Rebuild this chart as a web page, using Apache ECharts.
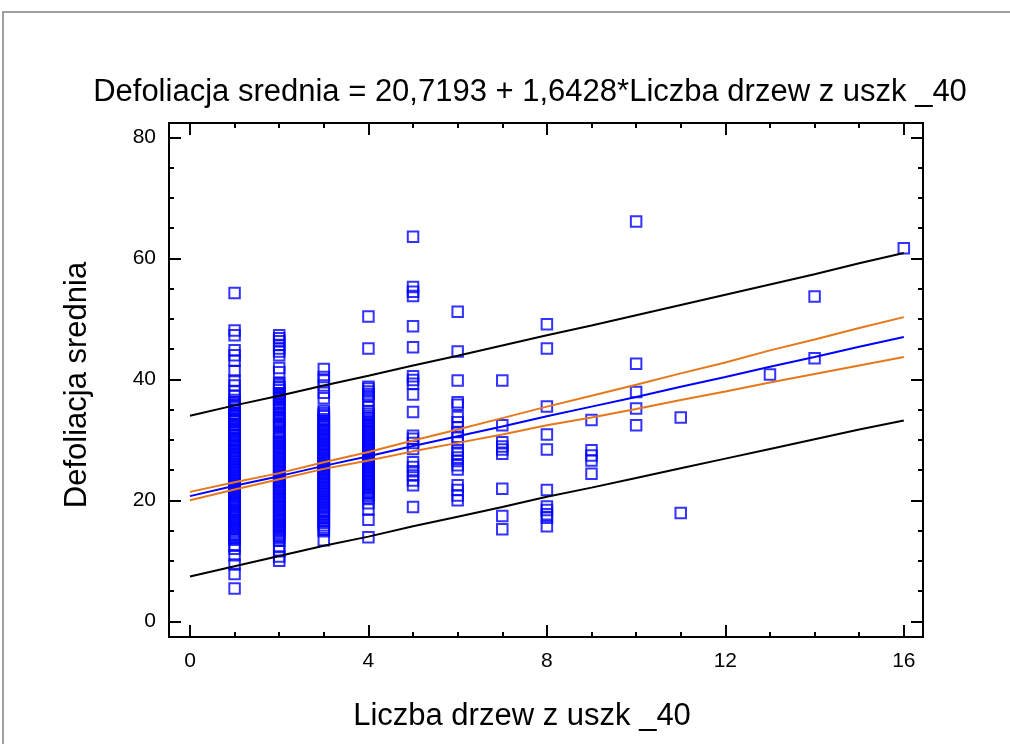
<!DOCTYPE html>
<html><head><meta charset="utf-8">
<script src="https://cdn.jsdelivr.net/npm/echarts@6/dist/echarts.min.js"></script>
<style>html,body{margin:0;padding:0;background:#fff}#c{width:1010px;height:744px}</style>
</head><body><div id="c"></div>
<script>
// ---- texts ----
const titleText = 'Defoliacja srednia = 20,7193 + 1,6428*Liczba drzew z uszk _40';
const xTitle = 'Liczba drzew z uszk _40';
const yTitle = 'Defoliacja srednia';

// ---- ticks ----
const xMajorTicks = [0, 4, 8, 12, 16];
const xMinorTicks = [1, 2, 3, 5, 6, 7, 9, 10, 11, 13, 14, 15];
const yMajorTicks = [0, 20, 40, 60, 80];
const yMinorTicks = [5, 10, 15, 25, 30, 35, 45, 50, 55, 65, 70, 75];

// ---- observations (x value and the y values read at that x) ----
const obsX = [1, 2, 3, 4, 5, 6, 7, 8, 9, 10, 11, 13, 14, 16];
const obsY1 = [54.3, 48.1, 47.3, 44.8, 44.0, 43.1, 41.4, 39.8, 39.0, 38.0, 37.3,
  36.6, 36.2, 35.9, 35.7, 35.3, 35.0, 34.8, 34.4, 34.2, 33.9, 33.5, 33.3, 33.0, 32.6, 32.4, 32.1, 31.8, 31.5, 31.2, 30.9,
  30.7, 30.3, 30.1, 29.8, 29.5, 29.2, 28.9, 28.7, 28.3, 28.1, 27.8, 27.5, 27.2, 26.9, 26.7, 26.4, 26.1, 25.8, 25.5, 25.2,
  25.0, 24.7, 24.4, 24.1, 23.8, 23.6, 23.3, 23.0, 22.7, 22.4, 22.2, 21.9, 21.6, 21.3, 21.0, 20.8, 20.5, 20.2, 19.9, 19.6,
  19.4, 19.1, 18.8, 18.5, 18.2, 18.0, 17.7, 17.4, 17.1, 16.8, 16.6, 16.3, 16.0, 15.7, 15.4, 15.2, 14.9, 14.6, 14.3, 14.0,
  13.8, 13.5, 12.5, 12.0, 10.9, 9.4, 7.8, 5.4];
const obsY2 = [47.3, 46.8, 46.3, 45.7, 45.1, 44.6, 44.0, 41.9, 41.2,
  39.4, 39.1, 38.8, 38.6, 38.2, 37.7, 37.4, 37.1, 36.8, 36.5, 36.2, 35.9, 35.5, 35.3, 35.0, 34.4, 34.1, 33.8, 33.5, 33.2,
  32.9, 32.6, 32.3, 32.1, 31.4, 31.1, 30.8, 30.5, 30.2, 29.9, 29.6, 29.3, 29.0, 28.7, 28.4, 28.1, 27.8, 27.5, 27.2, 26.9,
  26.6, 26.3, 26.0, 25.7, 25.4, 25.1, 24.8, 24.5, 24.2, 23.9, 23.6, 23.3, 23.0, 22.7, 22.4, 22.1, 21.8, 21.5, 21.2, 20.9,
  20.6, 20.3, 20.0, 19.7, 19.4, 19.1, 18.8, 18.5, 18.2, 17.9, 17.6, 17.3, 17.0, 16.7, 16.4, 16.1, 15.8, 15.5, 15.2, 14.9,
  14.6, 14.3, 14.0, 13.7, 13.3, 12.3, 11.6, 10.7, 10.0];
const obsY3 = [41.7, 40.4, 39.8, 39.0, 37.8, 36.9,
  34.8, 34.5, 34.2, 33.9, 33.4, 33.1, 32.8, 32.5, 32.2, 31.9, 31.6, 31.3, 31.0, 30.7, 30.4, 30.1, 29.8, 29.5, 29.2, 28.9,
  28.6, 28.3, 28.0, 27.7, 27.4, 27.1, 26.8, 26.5, 26.2, 25.9, 25.6, 25.3, 25.0, 24.7, 24.4, 24.1, 23.8, 23.5, 23.2, 22.9,
  22.6, 22.3, 22.0, 21.7, 21.4, 21.1, 20.8, 20.5, 20.2, 19.9, 19.6, 19.3, 19.0, 18.7, 18.4, 18.1, 17.8, 17.4, 17.1, 16.6,
  16.3, 15.9, 15.5, 15.2, 14.9, 13.4];
const obsY4 = [50.4, 45.1,
  38.8, 38.5, 38.0, 37.6, 37.3, 36.5, 35.4, 34.7, 34.3, 34.0, 33.6, 33.3, 33.0, 32.7, 32.4, 32.1, 31.8, 31.5, 31.2, 30.9,
  30.6, 30.3, 30.0, 29.7, 29.4, 29.1, 28.8, 28.5, 28.2, 27.9, 27.6, 27.3, 27.0, 26.7, 26.4, 26.1, 25.8, 25.5, 25.2, 24.9,
  24.6, 24.3, 24.0, 23.7, 23.4, 23.1, 22.8, 22.5, 22.2, 21.9, 21.6, 21.3, 21.0, 20.7, 20.4, 19.5, 18.5, 16.8, 13.9];
const obsY5 = [63.6, 55.3, 54.5, 53.8, 48.8, 45.3, 40.5, 39.9, 39.3, 37.5, 34.6, 30.7, 30.2, 29.5, 28.5, 26.3, 25.5, 24.8, 24.1, 23.3, 22.5, 18.9];
const obsY6 = [51.2, 44.6, 39.8, 36.2, 35.8, 33.8, 32.9, 32.1, 31.3, 30.5, 29.6, 28.3, 27.7, 27.1, 26.5, 25.8, 25.1, 22.5, 21.7, 20.8, 20.0];
const obsY7 = [39.8, 32.4, 29.6, 28.9, 28.4, 27.7, 21.9, 17.4, 15.2];
const obsY8 = [49.1, 45.1, 35.5, 30.9, 28.4, 21.7, 19.0, 18.4, 17.7, 17.1, 15.7];
const obsY9 = [33.3, 28.3, 27.4, 26.6, 24.4];
const obsY10 = [66.1, 42.6, 37.9, 35.2, 32.4];
const obsY11 = [33.7, 17.9];
const obsY13 = [40.8];
const obsY14 = [53.7, 43.5];
const obsY16 = [61.7];
const obsYs = [obsY1, obsY2, obsY3, obsY4, obsY5, obsY6, obsY7, obsY8, obsY9, obsY10, obsY11, obsY13, obsY14, obsY16];

// ---- fitted line and limits, read at x = 0..16 ----
const fitX = [0, 1, 2, 3, 4, 5, 6, 7, 8, 9, 10, 11, 12, 13, 14, 15, 16];
const fitY = [20.7, 22.4, 24.0, 25.7, 27.3, 29.0, 30.6, 32.2, 33.9, 35.5, 37.1, 38.8, 40.4, 42.1, 43.7, 45.4, 47.0];
const confUpper = [21.4, 23.0, 24.5, 26.3, 28.0, 29.9, 31.7, 33.6, 35.5, 37.3, 39.1, 41.0, 42.8, 44.8, 46.6, 48.5, 50.3];
const confLower = [20.0, 21.8, 23.5, 25.2, 26.6, 28.1, 29.5, 30.9, 32.4, 33.7, 35.1, 36.6, 38.0, 39.5, 40.9, 42.3, 43.7];
const predUpper = [34.0, 35.7, 37.3, 39.0, 40.6, 42.3, 43.9, 45.6, 47.3, 48.9, 50.6, 52.3, 54.0, 55.7, 57.4, 59.2, 60.9];
const predLower = [7.4, 9.1, 10.8, 12.5, 14.0, 15.7, 17.3, 18.9, 20.6, 22.1, 23.7, 25.3, 26.9, 28.5, 30.1, 31.7, 33.2];

const F = "'Liberation Sans', Arial, sans-serif";
const X_MIN = -0.47, X_MAX = 16.43, Y_MIN = -2.6, Y_MAX = 82.4;

function axis(kind, pos, ticks, len, labels, extra) {
  const a = {
    type: 'value', position: pos,
    min: kind === 'x' ? X_MIN : Y_MIN, max: kind === 'x' ? X_MAX : Y_MAX,
    axisLine: { show: true, onZero: false, lineStyle: { color: '#000', width: 2 } },
    axisTick: { show: true, inside: true, length: len, customValues: ticks, lineStyle: { color: '#000', width: 2 } },
    axisLabel: { show: labels, customValues: ticks, margin: kind === 'x' ? 14 : 13, color: '#000', fontSize: 21, fontFamily: F },
    splitLine: { show: false }, minorTick: { show: false }
  };
  return Object.assign(a, extra || {});
}

const scatterData = [];
obsX.forEach((x, i) => obsYs[i].forEach(v => scatterData.push([x, v])));
const zip = arr => fitX.map((x, i) => [x, arr[i]]);
const lineS = (name, arr, color) => ({
  name, type: 'line', data: zip(arr), showSymbol: false, symbol: 'none', silent: true,
  lineStyle: { color, width: 2 }, xAxisIndex: 0, yAxisIndex: 0
});

const chart = echarts.init(document.getElementById('c'), null, { renderer: 'canvas' });
chart.setOption({
  animation: false,
  backgroundColor: '#fff',
  title: {
    text: titleText, left: 530, top: 77, textAlign: 'center', padding: 0,
    textStyle: { fontFamily: F, fontSize: 31, fontWeight: 'normal', color: '#000' }
  },
  graphic: [{
    type: 'rect', silent: true, z: -1,
    shape: { x: 3, y: 12, width: 1030, height: 760 },
    style: { fill: 'none', stroke: '#a0a0a0', lineWidth: 2 }
  }],
  grid: { left: 169, top: 123, width: 754, height: 514, containLabel: false },
  xAxis: [
    axis('x', 'bottom', xMajorTicks, 12, true, {
      name: xTitle, nameLocation: 'middle', nameGap: 64,
      nameTextStyle: { fontFamily: F, fontSize: 31, color: '#000', padding: [0, 48, 0, 0] }
    }),
    axis('x', 'bottom', xMinorTicks, 5, false),
    axis('x', 'top', xMajorTicks, 12, false),
    axis('x', 'top', xMinorTicks, 5, false)
  ],
  yAxis: [
    axis('y', 'left', yMajorTicks, 12, true, {
      name: yTitle, nameLocation: 'middle', nameGap: 76, nameRotate: 90,
      nameTextStyle: { fontFamily: F, fontSize: 31, color: '#000', padding: [0, 10, 0, 0] }
    }),
    axis('y', 'left', yMinorTicks, 5, false),
    axis('y', 'right', yMajorTicks, 12, false),
    axis('y', 'right', yMinorTicks, 5, false)
  ],
  series: [
    {
      name: 'obs', type: 'scatter', data: scatterData, symbol: 'rect', symbolSize: 10.5,
      itemStyle: { color: 'rgba(0,0,0,0)', borderColor: '#0000FF', borderWidth: 2 },
      xAxisIndex: 0, yAxisIndex: 0, silent: true
    },
    lineS('predUpper', predUpper, '#000000'),
    lineS('predLower', predLower, '#000000'),
    lineS('confUpper', confUpper, '#E6781A'),
    lineS('confLower', confLower, '#E6781A'),
    lineS('fit', fitY, '#0000FF')
  ]
});
</script></body></html>
